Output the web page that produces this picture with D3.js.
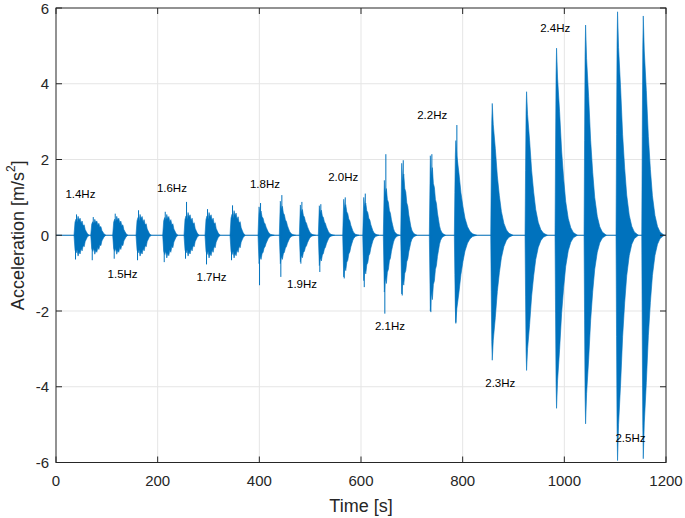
<!DOCTYPE html>
<html>
<head>
<meta charset="utf-8">
<script src="https://cdn.jsdelivr.net/npm/d3@7"></script>
<style>
  html, body { margin: 0; padding: 0; background: #fff; }
  svg { display: block; font-family: "Liberation Sans", Arial, Helvetica, sans-serif; }
</style>
</head>
<body>
<svg id="chart" width="685" height="518"></svg>
<script>
// ---------------- data ----------------
const xTicks = [0, 200, 400, 600, 800, 1000, 1200];
const yTicks = [-6, -4, -2, 0, 2, 4, 6];

// burst start times [s]
const burstStart = [35.4, 68.3, 111.5, 157.4, 209.9, 251.8, 293.1, 342.3,
                    397.4, 439.3, 478.7, 516.0, 564.0, 603.4, 643.9, 678.1,
                    734.4, 783.6, 855.2, 922.7, 981.7, 1038.8, 1101.7, 1152.3];
// dense body envelope (positive / negative) [m/s^2]
const bodyPos = [0.50, 0.42, 0.50, 0.55, 0.55, 0.60, 0.60, 0.65,
                 0.75, 0.90, 0.80, 0.78, 0.95, 1.00, 1.45, 1.90,
                 2.10, 2.50, 3.48, 3.79, 4.94, 5.55, 5.90, 5.79];
const bodyNeg = [-0.55, -0.50, -0.50, -0.55, -0.60, -0.55, -0.60, -0.60,
                 -0.75, -0.75, -0.70, -0.80, -1.10, -1.20, -1.50, -1.55,
                 -2.00, -2.30, -3.30, -3.57, -4.57, -4.98, -5.95, -5.90];
// isolated extreme spikes
const peakPos = [0.55, 0.48, 0.57, 0.66, 0.62, 0.88, 0.69, 0.79,
                 0.85, 1.06, 0.88, 0.82, 1.00, 1.10, 2.14, 1.98,
                 2.14, 2.91, 3.48, 3.79, 4.94, 5.55, 5.90, 5.79];
const peakNeg = [-0.64, -0.66, -0.62, -0.66, -0.71, -0.62, -0.77, -0.66,
                 -1.32, -1.10, -0.75, -0.97, -1.14, -1.37, -2.07, -1.59,
                 -2.03, -2.33, -3.30, -3.57, -4.57, -4.98, -5.95, -5.90];
const burstShape = ["low","low","low","low","low","low","low","low",
                    "mid","mid","mid","mid","mid","mid","mid","mid",
                    "mid","spike","spike","spike","spike","spike","spike","spike"];

// envelope shapes: offset [s] and relative amplitude
const lowT   = [0, 2, 4, 6, 8, 10, 12, 14, 16, 18, 20, 22, 24, 26, 28, 30];
const lowA   = [0, 0.7, 0.85, 0.7, 1.0, 0.8, 0.9, 0.65, 0.75, 0.5, 0.55, 0.3, 0.2, 0.1, 0.04, 0];
const midT   = [0, 2, 4, 6, 8, 10, 12, 14, 16, 18, 20, 22, 25, 28, 32];
const midA   = [0, 1.0, 0.75, 0.85, 0.65, 0.6, 0.45, 0.4, 0.28, 0.2, 0.12, 0.07, 0.03, 0.015, 0];
const spikeT = [0, 1, 2, 3, 5, 9, 13, 17, 21, 26, 31, 36, 44];
const spikeA = [0, 0.45, 0.85, 1.0, 0.84, 0.66, 0.45, 0.3, 0.18, 0.09, 0.04, 0.015, 0];

const freqLabels = ["1.4Hz","1.5Hz","1.6Hz","1.7Hz","1.8Hz","1.9Hz",
                    "2.0Hz","2.1Hz","2.2Hz","2.3Hz","2.4Hz","2.5Hz"];
const labelTime = [48, 131, 228, 306, 411, 484, 565, 657, 740, 874, 982, 1130];
const labelAcc  = [1.08, -1.01, 1.25, -1.10, 1.35, -1.29, 1.54, -2.40, 3.17, -3.90, 5.47, -5.36];

// ---------------- layout ----------------
const svg = d3.select("#chart");
const L = 56, R = 666, T = 8, B = 462.5;
const x = d3.scaleLinear().domain([0, 1200]).range([L, R]);
const y = d3.scaleLinear().domain([-6, 6]).range([B, T]);
const blue = "#0072BD";
const axisCol = "#262626";

// grid
svg.append("g").selectAll("line").data(xTicks.slice(1, -1)).join("line")
  .attr("x1", d => x(d)).attr("x2", d => x(d)).attr("y1", T).attr("y2", B)
  .attr("stroke", "#e5e5e5").attr("stroke-width", 1);
svg.append("g").selectAll("line").data(yTicks.slice(1, -1)).join("line")
  .attr("y1", d => y(d)).attr("y2", d => y(d)).attr("x1", L).attr("x2", R)
  .attr("stroke", "#e5e5e5").attr("stroke-width", 1);

// baseline of the signal
const plot = svg.append("g");
plot.append("line").attr("x1", x(0)).attr("x2", x(1200)).attr("y1", y(0)).attr("y2", y(0))
  .attr("stroke", blue).attr("stroke-width", 1);

const shapes = { low: [lowT, lowA], mid: [midT, midA], spike: [spikeT, spikeA] };
const area = d3.area().x(d => x(d.t)).y0(d => y(d.lo)).y1(d => y(d.hi));

burstStart.forEach((t0, i) => {
  const [ts, as] = shapes[burstShape[i]];
  const pts = ts.map((t, k) => ({ t: t0 + t, hi: as[k] * bodyPos[i], lo: as[k] * bodyNeg[i] }));
  plot.append("path").attr("d", area(pts)).attr("fill", blue)
    .attr("stroke", blue).attr("stroke-width", 0.6);
  if (peakPos[i] > bodyPos[i] + 0.02) {
    plot.append("line").attr("x1", x(t0 + 5)).attr("x2", x(t0 + 5))
      .attr("y1", y(0)).attr("y2", y(peakPos[i])).attr("stroke", blue).attr("stroke-width", 1);
  }
  if (peakNeg[i] < bodyNeg[i] - 0.02) {
    plot.append("line").attr("x1", x(t0 + 3)).attr("x2", x(t0 + 3))
      .attr("y1", y(0)).attr("y2", y(peakNeg[i])).attr("stroke", blue).attr("stroke-width", 1);
  }
});

// frequency labels
svg.append("g").selectAll("text").data(freqLabels).join("text")
  .attr("x", (d, i) => x(labelTime[i])).attr("y", (d, i) => y(labelAcc[i]))
  .attr("text-anchor", "middle").attr("dominant-baseline", "central")
  .attr("font-size", 11.5).attr("fill", "#000").text(d => d);

// axes box
svg.append("rect").attr("x", L).attr("y", T).attr("width", R - L).attr("height", B - T)
  .attr("fill", "none").attr("stroke", axisCol).attr("stroke-width", 1);

// ticks (inward, all four sides)
const tk = 6;
const ax = svg.append("g").attr("stroke", axisCol).attr("stroke-width", 1);
xTicks.forEach(v => {
  ax.append("line").attr("x1", x(v)).attr("x2", x(v)).attr("y1", B).attr("y2", B - tk);
  ax.append("line").attr("x1", x(v)).attr("x2", x(v)).attr("y1", T).attr("y2", T + tk);
});
yTicks.forEach(v => {
  ax.append("line").attr("y1", y(v)).attr("y2", y(v)).attr("x1", L).attr("x2", L + tk);
  ax.append("line").attr("y1", y(v)).attr("y2", y(v)).attr("x1", R).attr("x2", R - tk);
});

// tick labels
svg.append("g").selectAll("text").data(xTicks).join("text")
  .attr("x", d => x(d)).attr("y", B + 18).attr("text-anchor", "middle")
  .attr("dominant-baseline", "central").attr("font-size", 15).attr("fill", axisCol)
  .text(d => d);
svg.append("g").selectAll("text").data(yTicks).join("text")
  .attr("x", L - 7).attr("y", d => y(d)).attr("text-anchor", "end")
  .attr("dominant-baseline", "central").attr("font-size", 15).attr("fill", axisCol)
  .text(d => d);

// axis titles
svg.append("text").attr("x", (L + R) / 2).attr("y", 506).attr("text-anchor", "middle")
  .attr("dominant-baseline", "central").attr("font-size", 18).attr("fill", axisCol)
  .text("Time [s]");
const yl = svg.append("text").attr("transform", `translate(18,${(T + B) / 2}) rotate(-90)`)
  .attr("text-anchor", "middle").attr("dominant-baseline", "central")
  .attr("font-size", 18).attr("fill", axisCol);
yl.append("tspan").text("Acceleration [m/s");
yl.append("tspan").attr("font-size", 12).attr("dy", -7).text("2");
yl.append("tspan").attr("dy", 7).text("]");
</script>
</body>
</html>
